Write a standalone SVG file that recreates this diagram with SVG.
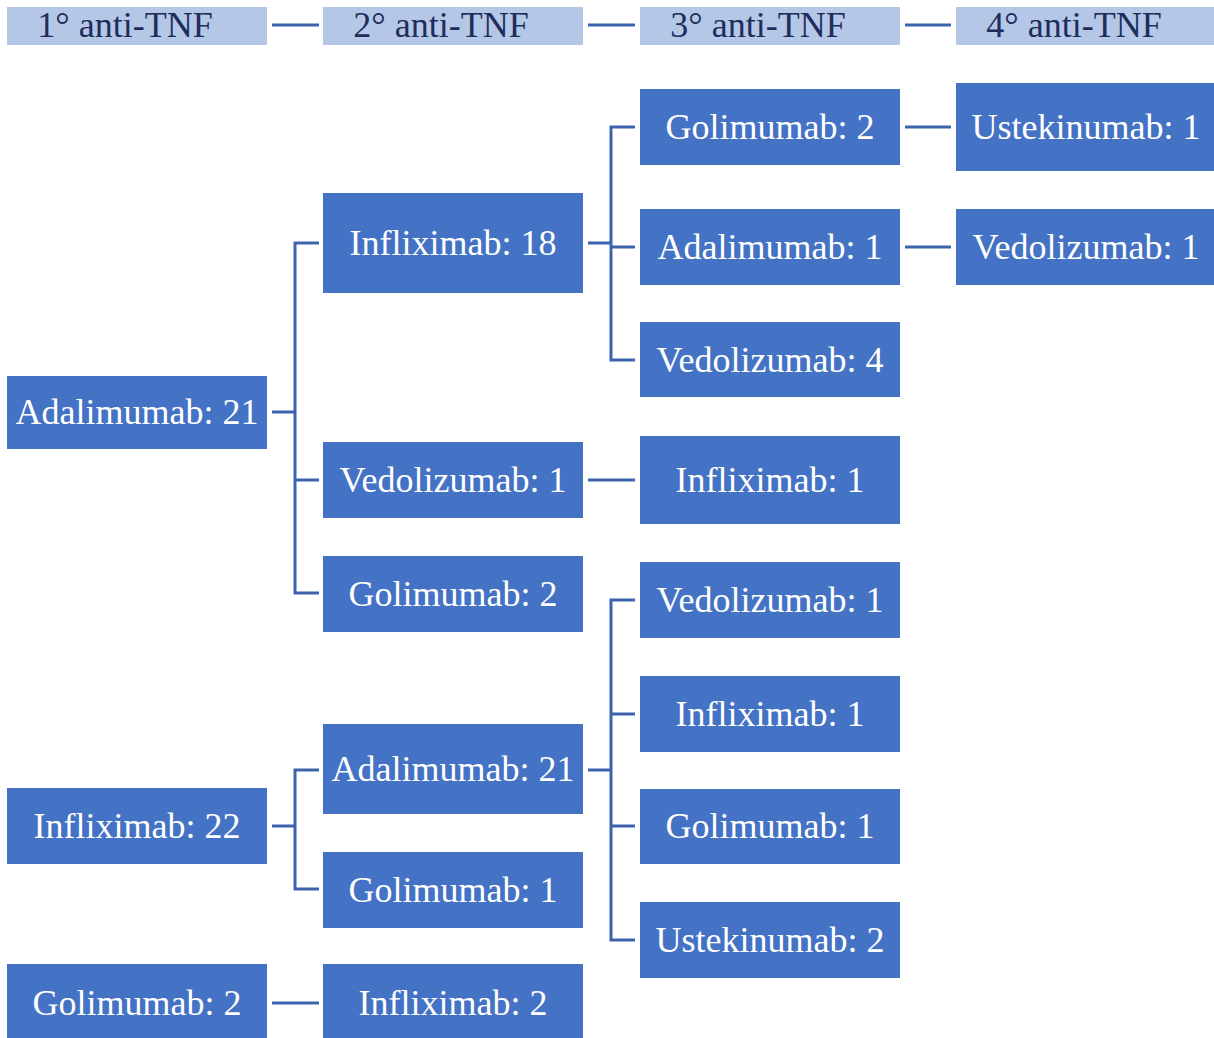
<svg xmlns="http://www.w3.org/2000/svg" width="1214" height="1038" viewBox="0 0 1214 1038">
<style>
.hdr{fill:#B4C7E7}
.hdr-t{fill:#1F2D5C;font-size:36px;text-anchor:middle}
.box{fill:#4472C4}
.t{fill:#FFFFFF;font-size:36px;text-anchor:middle}
.c{fill:none;stroke:#3C64AE;stroke-width:3}
</style>
<rect width="1214" height="1038" fill="#FFFFFF"/>
<g id="connectors">
<path class="c" d="M272 25H319M588 25H635M905 25H951"/>
<path class="c" d="M272 412H295M319 243H295V593H319M295 480H319"/>
<path class="c" d="M588 243H611M635 127H611V360H635M611 247H635"/>
<path class="c" d="M588 480H635"/>
<path class="c" d="M905 127H951M905 247H951"/>
<path class="c" d="M272 826H295M319 770H295V889H319"/>
<path class="c" d="M588 770H611M635 600H611V940H635M611 714H635M611 826H635"/>
<path class="c" d="M272 1003H319"/>
</g>
<g font-family="Tinos, 'Liberation Serif', 'DejaVu Serif Condensed', 'DejaVu Serif', serif">
<g id="h1"><rect class="hdr" x="7" y="7" width="260" height="38"/><text class="hdr-t" x="125" y="37">1° anti-TNF</text></g>
<g id="h2"><rect class="hdr" x="323" y="7" width="260" height="38"/><text class="hdr-t" x="441" y="37">2° anti-TNF</text></g>
<g id="h3"><rect class="hdr" x="640" y="7" width="260" height="38"/><text class="hdr-t" x="758" y="37">3° anti-TNF</text></g>
<g id="h4"><rect class="hdr" x="956" y="7" width="260" height="38"/><text class="hdr-t" x="1074" y="37">4° anti-TNF</text></g>
<g id="n-ada21"><rect class="box" x="7" y="376" width="260" height="73"/><text class="t" x="137" y="424">Adalimumab: 21</text></g>
<g id="n-inf22"><rect class="box" x="7" y="788" width="260" height="76"/><text class="t" x="137" y="838">Infliximab: 22</text></g>
<g id="n-gol2a"><rect class="box" x="7" y="964" width="260" height="74"/><text class="t" x="137" y="1015">Golimumab: 2</text></g>
<g id="n-inf18"><rect class="box" x="323" y="193" width="260" height="100"/><text class="t" x="453" y="255">Infliximab: 18</text></g>
<g id="n-ved1a"><rect class="box" x="323" y="442" width="260" height="76"/><text class="t" x="453" y="492">Vedolizumab: 1</text></g>
<g id="n-gol2b"><rect class="box" x="323" y="556" width="260" height="76"/><text class="t" x="453" y="606">Golimumab: 2</text></g>
<g id="n-ada21b"><rect class="box" x="323" y="724" width="260" height="90"/><text class="t" x="453" y="781">Adalimumab: 21</text></g>
<g id="n-gol1a"><rect class="box" x="323" y="852" width="260" height="76"/><text class="t" x="453" y="902">Golimumab: 1</text></g>
<g id="n-inf2"><rect class="box" x="323" y="964" width="260" height="74"/><text class="t" x="453" y="1015">Infliximab: 2</text></g>
<g id="n-gol2c"><rect class="box" x="640" y="89" width="260" height="76"/><text class="t" x="770" y="139">Golimumab: 2</text></g>
<g id="n-ada1"><rect class="box" x="640" y="209" width="260" height="76"/><text class="t" x="770" y="259">Adalimumab: 1</text></g>
<g id="n-ved4"><rect class="box" x="640" y="322" width="260" height="75"/><text class="t" x="770" y="372">Vedolizumab: 4</text></g>
<g id="n-inf1a"><rect class="box" x="640" y="436" width="260" height="88"/><text class="t" x="770" y="492">Infliximab: 1</text></g>
<g id="n-ved1b"><rect class="box" x="640" y="562" width="260" height="76"/><text class="t" x="770" y="612">Vedolizumab: 1</text></g>
<g id="n-inf1b"><rect class="box" x="640" y="676" width="260" height="76"/><text class="t" x="770" y="726">Infliximab: 1</text></g>
<g id="n-gol1b"><rect class="box" x="640" y="789" width="260" height="75"/><text class="t" x="770" y="838">Golimumab: 1</text></g>
<g id="n-ust2"><rect class="box" x="640" y="902" width="260" height="76"/><text class="t" x="770" y="952">Ustekinumab: 2</text></g>
<g id="n-ust1"><rect class="box" x="956" y="83" width="260" height="88"/><text class="t" x="1086" y="139">Ustekinumab: 1</text></g>
<g id="n-ved1c"><rect class="box" x="956" y="209" width="260" height="76"/><text class="t" x="1086" y="259">Vedolizumab: 1</text></g>
</g>
</svg>
